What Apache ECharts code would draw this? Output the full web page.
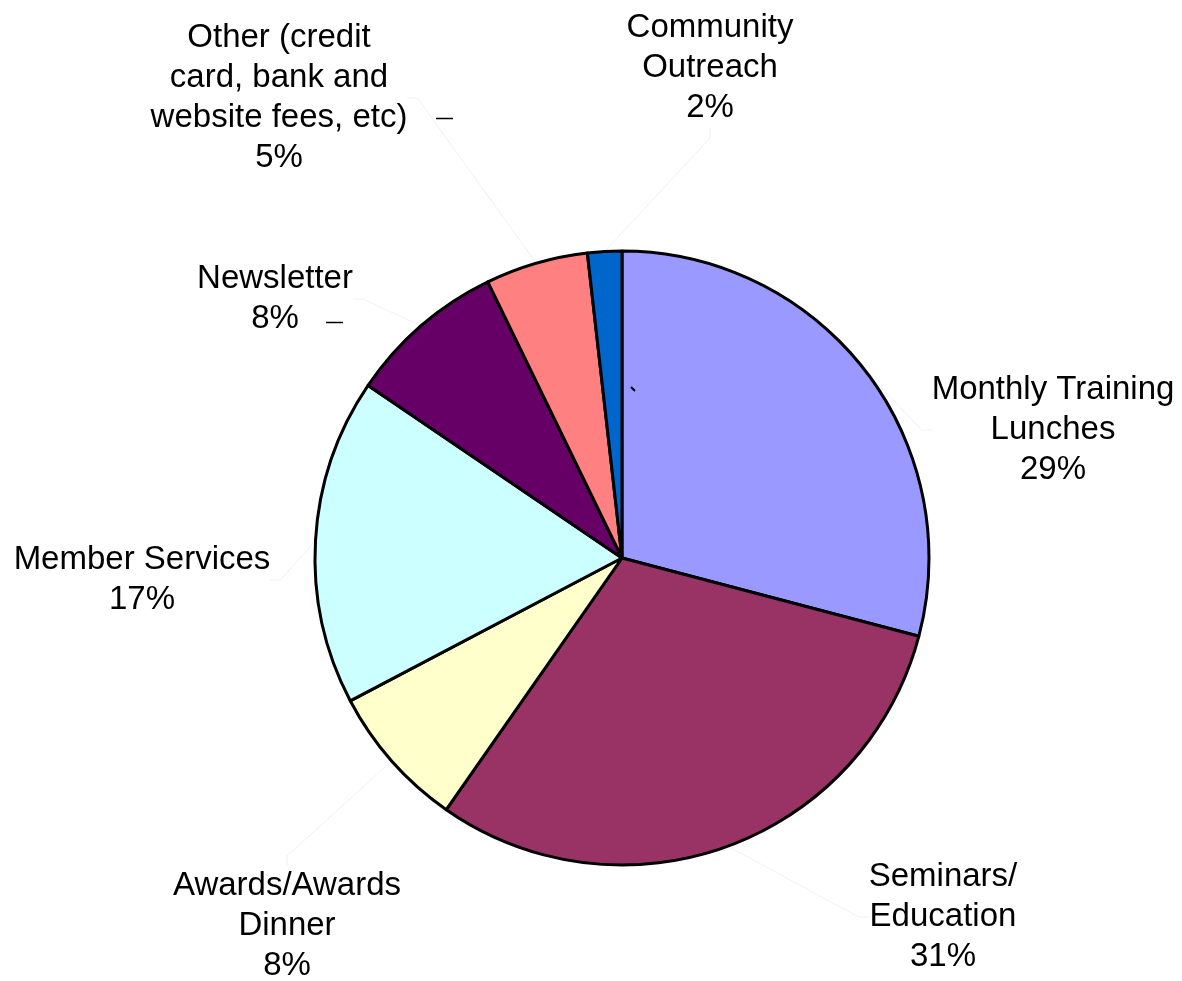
<!DOCTYPE html>
<html>
<head>
<meta charset="utf-8">
<script src="https://cdn.jsdelivr.net/npm/echarts@6/dist/echarts.min.js"></script>
<style>
  html, body { margin: 0; padding: 0; background: #fff; }
  #chart { width: 1182px; height: 981px; }
</style>
</head>
<body>
<div id="chart"></div>
<script>
const categories = [
  'Monthly Training\nLunches',
  'Seminars/\nEducation',
  'Awards/Awards\nDinner',
  'Member Services',
  'Newsletter',
  'Other (credit\ncard, bank and\nwebsite fees, etc)',
  'Community\nOutreach'
]
const values = [29.1, 30.6, 7.6, 17.2, 8.3, 5.4, 1.8]
const colors = ['#9999FF', '#993366', '#FFFFCC', '#CCFFFF', '#660066', '#FF8080', '#0066CC']

// label centres, by slice
const labelPos = [
  [1053, 430], [943, 917], [287, 926], [142, 580], [275, 299], [279, 98], [710, 68]
]

const chart = echarts.init(document.getElementById('chart'))
chart.setOption({
  animation: false,
  series: [{
    type: 'pie',
    center: [622, 558],
    radius: 307,
    startAngle: 90,
    clockwise: true,
    percentPrecision: 0,
    data: categories.map((c, i) => ({ name: c, value: values[i], itemStyle: { color: colors[i] } })),
    itemStyle: { borderColor: '#000', borderWidth: 3 },
    label: {
      show: true,
      formatter: '{b}\n{d}%',
      color: '#000',
      fontFamily: 'Liberation Sans, Arial, sans-serif',
      fontSize: 33,
      lineHeight: 40,
      align: 'center'
    },
    labelLine: { show: true, lineStyle: { color: '#f0f0f0', width: 1 }, length: 20, length2: 10 },
    labelLayout: p => ({
      x: labelPos[p.dataIndex][0],
      y: labelPos[p.dataIndex][1],
      align: 'center',
      verticalAlign: 'middle'
    }),
    emphasis: { disabled: true }
  }],
  graphic: [
    { type: 'line', z: 100, shape: { x1: 436, y1: 118.5, x2: 453, y2: 118.5 }, style: { stroke: '#000', lineWidth: 1.5 } },
    { type: 'line', z: 100, shape: { x1: 326, y1: 322.5, x2: 343, y2: 322.5 }, style: { stroke: '#000', lineWidth: 1.5 } },
    { type: 'line', z: 100, shape: { x1: 631, y1: 387, x2: 635, y2: 391 }, style: { stroke: '#000', lineWidth: 2 } }
  ]
})
</script>
</body>
</html>
